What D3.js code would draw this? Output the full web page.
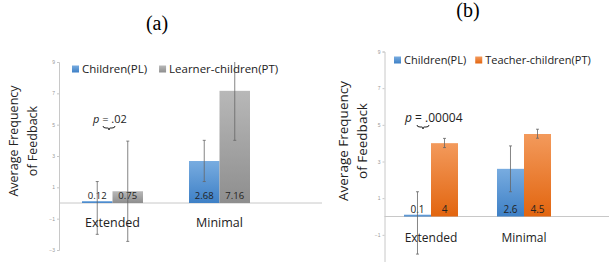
<!DOCTYPE html>
<html>
<head>
<meta charset="utf-8">
<script src="https://cdn.jsdelivr.net/npm/d3@7"></script>
<style>
  body { margin: 0; background: #fff; }
  svg { display: block; font-family: "Open Sans", sans-serif; }
  .tick text { fill: #999; font-size: 5px; }
  .tick line, .domain { stroke: #c8c8c8; }
</style>
</head>
<body>
<div id="chart"></div>
<script>
// Data
const categories = ["Extended", "Minimal"];
const yTicksA = [-3, -1, 1, 3, 5, 7, 9];
const yTicksB = [-1, 1, 3, 5, 7, 9];

// panel (a)
const childrenA = [0.12, 2.68];
const learnerA = [0.75, 7.16];
const childrenA_low = [-2.0, 1.37];
const childrenA_high = [1.37, 4.0];
const learnerA_low = [-2.45, 4.0];
const learnerA_high = [3.95, 10.3];

// panel (b)
const childrenB = [0.1, 2.6];
const teacherB = [4, 4.5];
const childrenB_low = [-2.05, 1.35];
const childrenB_high = [1.35, 3.85];
const teacherB_low = [3.76, 4.27];
const teacherB_high = [4.26, 4.76];

const width = 609;
const height = 262;

const svg = d3.select("#chart")
  .append("svg")
    .attr("width", width)
    .attr("height", height);

const defs = svg.append("defs");
const addGrad = (id, top, bottom) => {
  const g = defs.append("linearGradient")
    .attr("id", id)
    .attr("x1", 0).attr("y1", 0).attr("x2", 0).attr("y2", 1);
  g.append("stop").attr("offset", "0%").attr("stop-color", top);
  g.append("stop").attr("offset", "100%").attr("stop-color", bottom);
};
addGrad("blue", "#78ACE0", "#3E80C6");
addGrad("gray", "#B8B8B8", "#8E8E8E");
addGrad("orange", "#F39A5C", "#E2650F");

const drawPanel = (p) => {
  const g = svg.append("g");

  const y = d3.scaleLinear().domain([-3, 9]).range(p.yRange);
  const x = d3.scaleBand().domain(categories).range(p.xRange);
  const xSub = d3.scaleBand()
    .domain([0, 1])
    .range([0, x.bandwidth()])
    .paddingOuter(p.outer);

  // title
  g.append("text")
    .attr("x", p.titleX)
    .attr("y", p.titleY)
    .attr("text-anchor", "middle")
    .style("font-family", "'Liberation Serif', serif")
    .style("font-size", "20px")
    .text(p.title);

  // y axis
  g.append("g")
    .attr("transform", `translate(${p.xRange[0]},0)`)
    .call(d3.axisLeft(y).tickValues(p.ticks).tickSize(2).tickPadding(2).tickFormat(d3.format("d")));

  // zero line
  g.append("line")
    .attr("x1", p.xRange[0]).attr("x2", p.zeroEnd)
    .attr("y1", y(0)).attr("y2", y(0))
    .attr("stroke", "#c8c8c8");

  // y title
  g.append("text")
    .attr("transform", `translate(${p.yTitleX},${p.yTitleY}) rotate(-90)`)
    .attr("text-anchor", "middle")
    .style("font-size", p.yTitleSize)
    .style("fill", "#222")
    .selectAll("tspan")
    .data(["Average Frequency", "of Feedback"])
    .join("tspan")
      .attr("x", 0)
      .attr("dy", (d, i) => i === 0 ? 0 : p.yTitleGap)
      .text(d => d);

  // bars
  p.series.forEach((s, si) => {
    g.selectAll(null)
      .data(categories)
      .join("rect")
        .attr("x", c => x(c) + xSub(si))
        .attr("width", xSub.bandwidth())
        .attr("y", (c, i) => y(Math.max(0, s.values[i])))
        .attr("height", (c, i) => Math.abs(y(s.values[i]) - y(0)))
        .attr("fill", `url(#${s.fill})`);

    g.selectAll(null)
      .data(categories)
      .join("text")
        .attr("x", c => x(c) + xSub(si) + xSub.bandwidth() / 2)
        .attr("y", y(0) - 4)
        .attr("text-anchor", "middle")
        .style("font-size", p.valueSize)
        .style("fill", "#222")
        .text((c, i) => s.values[i]);
  });

  // error bars (clipped at axis top)
  p.series.forEach((s, si) => {
    categories.forEach((c, i) => {
      const cx = x(c) + xSub(si) + xSub.bandwidth() / 2;
      const hi = Math.min(9, s.high[i]);
      g.append("line")
        .attr("x1", cx).attr("x2", cx)
        .attr("y1", y(s.low[i])).attr("y2", y(hi))
        .attr("stroke", "#666").attr("stroke-width", 0.8);
      [s.low[i], hi].forEach(v => {
        if (v >= 9) return;
        g.append("line")
          .attr("x1", cx - 1.5).attr("x2", cx + 1.5)
          .attr("y1", y(v)).attr("y2", y(v))
          .attr("stroke", "#666").attr("stroke-width", 0.8);
      });
    });
  });

  // category labels
  g.selectAll(null)
    .data(categories)
    .join("text")
      .attr("x", c => x(c) + x.bandwidth() / 2)
      .attr("y", y(0) + p.catDy)
      .attr("text-anchor", "middle")
      .style("font-size", p.catSize)
      .style("fill", "#222")
      .text(c => c);

  // legend
  const legend = g.append("g")
    .attr("transform", `translate(${p.legendX},${p.legendY})`)
    .style("font-size", p.legendSize);
  let lx = 0;
  p.series.forEach(s => {
    legend.append("rect")
      .attr("x", lx).attr("y", -3.5)
      .attr("width", 7).attr("height", 7)
      .attr("fill", `url(#${s.fill})`);
    const t = legend.append("text")
      .attr("x", lx + 10)
      .attr("y", 4)
      .style("fill", "#222")
      .text(s.name);
    lx += 10 + t.node().getComputedTextLength() + p.legendGap;
  });

  // p-value with brace
  const pt = g.append("text")
    .attr("x", p.pX)
    .attr("y", p.pY)
    .style("font-size", p.pSize)
    .style("fill", "#222");
  pt.append("tspan").style("font-style", "italic").text("p");
  pt.append("tspan").text(p.pText);

  const bx = p.braceX, by = p.braceY;
  g.append("path")
    .attr("d", `M${bx - 6},${by} Q${bx - 6},${by + 2} ${bx - 3},${by + 2} L${bx - 1},${by + 2} Q${bx},${by + 2} ${bx},${by + 4} Q${bx},${by + 2} ${bx + 1},${by + 2} L${bx + 3},${by + 2} Q${bx + 6},${by + 2} ${bx + 6},${by}`)
    .attr("fill", "none")
    .attr("stroke", "#222")
    .attr("stroke-width", 1);
};

drawPanel({
  title: "(a)", titleX: 157, titleY: 30, ticks: yTicksA,
  yRange: [250, 62], xRange: [59, 273], outer: 0.754, zeroEnd: 322,
  yTitleX: 18, yTitleY: 141, yTitleSize: "12.5px", yTitleGap: 19,
  valueSize: "9.5px", catSize: "12.5px", catDy: 24,
  legendX: 72, legendY: 69, legendSize: "11.5px", legendGap: 12,
  pX: 93, pY: 123, pSize: "11px", pText: " = .02",
  braceX: 109, braceY: 126,
  series: [
    { name: "Children(PL)", fill: "blue", values: childrenA, low: childrenA_low, high: childrenA_high },
    { name: "Learner-children(PT)", fill: "gray", values: learnerA, low: learnerA_low, high: learnerA_high }
  ]
});

drawPanel({
  title: "(b)", titleX: 468, titleY: 17, ticks: yTicksB,
  yRange: [271.5, 51.5], xRange: [384.5, 570.5], outer: 0.722, zeroEnd: 609,
  yTitleX: 348, yTitleY: 141, yTitleSize: "13.5px", yTitleGap: 19,
  valueSize: "10px", catSize: "12px", catDy: 25,
  legendX: 394, legendY: 60, legendSize: "11px", legendGap: 9,
  pX: 405, pY: 122, pSize: "12px", pText: " = .00004",
  braceX: 423, braceY: 125,
  series: [
    { name: "Children(PL)", fill: "blue", values: childrenB, low: childrenB_low, high: childrenB_high },
    { name: "Teacher-children(PT)", fill: "orange", values: teacherB, low: teacherB_low, high: teacherB_high }
  ]
});
</script>
</body>
</html>
